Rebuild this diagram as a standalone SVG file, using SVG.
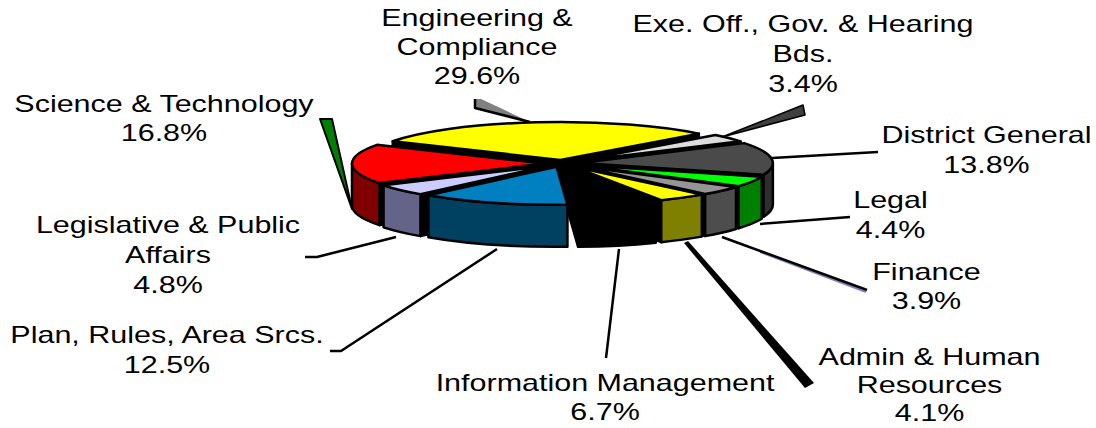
<svg xmlns="http://www.w3.org/2000/svg" width="1096" height="428" viewBox="0 0 1096 428">
<style>
.f{stroke:#000;stroke-width:2.5;stroke-linejoin:round}
.w{fill:#000}
.t{font-family:"Liberation Sans",Arial,sans-serif;font-size:24px;fill:#000;text-anchor:middle}
.ln{fill:none;stroke:#000;stroke-width:2.5;stroke-linejoin:round}
</style>
<rect width="1096" height="428" fill="#fff"/>
<g id="engineering">
<path class="f w" d="M560.24,159.98 L392.73,141.26 L392.73,183.26 L560.24,201.98 Z"/>
<path class="f w" d="M560.24,159.98 L698.87,133.61 L698.87,175.61 L560.24,201.98 Z"/>
<path class="f" fill="#FFFF00" d="M560.24,159.98 L392.73,141.26 A192.5,38 0 0 1 698.87,133.61 Z"/>
<text class="t" transform="scale(1.27 1)"><tspan x="375.6" y="26">Engineering &amp;</tspan><tspan x="375.6" y="55">Compliance</tspan><tspan x="375.6" y="84">29.6%</tspan></text>
</g>
<g id="exe">
<path class="f w" d="M576.72,161.32 L740.52,141.36 L740.52,183.36 L576.72,203.32 Z"/>
<path class="f" fill="#DDDDDD" d="M576.72,161.32 L715.35,134.95 A192.5,38 0 0 1 740.52,141.36 Z"/>
<text class="t" transform="scale(1.27 1)"><tspan x="632.3" y="32">Exe. Off., Gov. &amp; Hearing</tspan><tspan x="632.3" y="62">Bds.</tspan><tspan x="632.3" y="92">3.4%</tspan></text>
</g>
<g id="district">
<path class="f w" d="M580.37,163.08 L763.45,174.82 L763.45,216.82 L580.37,205.08 Z"/>
<path class="f" fill="#2E2E2E" d="M772.87,163.08 A192.5,38 0 0 1 763.45,174.82 L763.45,216.82 A192.5,38 0 0 0 772.87,205.08 Z"/>
<path class="f" fill="#4A4A4A" d="M580.37,163.08 L744.17,143.12 A192.5,38 0 0 1 763.45,174.82 Z"/>
<text class="t" transform="scale(1.27 1)"><tspan x="776.8" y="143">District General</tspan><tspan x="776.8" y="173">13.8%</tspan></text>
</g>
<g id="science">
<path class="f w" d="M544.5,163.55 L379.44,183.10 L379.44,225.10 L544.5,205.55 Z"/>
<path class="f" fill="#800000" d="M379.44,183.10 A192.5,38 0 0 1 352,163.55 L352,205.55 A192.5,38 0 0 0 379.44,225.10 Z"/>
<path class="f" fill="#FF0000" d="M544.5,163.55 L379.44,183.10 A192.5,38 0 0 1 376.99,144.83 Z"/>
<text class="t" transform="scale(1.27 1)"><tspan x="129.1" y="112">Science &amp; Technology</tspan><tspan x="129.1" y="141">16.8%</tspan></text>
</g>
<g id="legal">
<path class="f w" d="M578.69,165.05 L738.58,186.21 L738.58,228.21 L578.69,207.05 Z"/>
<path class="f" fill="#008000" d="M761.77,176.79 A192.5,38 0 0 1 738.58,186.21 L738.58,228.21 A192.5,38 0 0 0 761.77,218.79 Z"/>
<path class="f" fill="#00FF00" d="M578.69,165.05 L761.77,176.79 A192.5,38 0 0 1 738.58,186.21 Z"/>
<text class="t" transform="scale(1.27 1)"><tspan x="701.2" y="208">Legal</tspan><tspan x="701.2" y="238">4.4%</tspan></text>
</g>
<g id="legislative">
<path class="f w" d="M548.63,165.77 L420.45,194.12 L420.45,236.12 L548.63,207.77 Z"/>
<path class="f" fill="#646488" d="M420.45,194.12 A192.5,38 0 0 1 383.57,185.32 L383.57,227.32 A192.5,38 0 0 0 420.45,236.12 Z"/>
<path class="f" fill="#CCCCFF" d="M548.63,165.77 L420.45,194.12 A192.5,38 0 0 1 383.57,185.32 Z"/>
<text class="t" transform="scale(1.27 1)"><tspan x="132.3" y="233">Legislative &amp; Public</tspan><tspan x="132.3" y="263">Affairs</tspan><tspan x="132.3" y="293">4.8%</tspan></text>
</g>
<g id="finance">
<path class="f w" d="M576.11,165.82 L705.17,194.02 L705.17,236.02 L576.11,207.82 Z"/>
<path class="f" fill="#4D4D4D" d="M736,186.98 A192.5,38 0 0 1 705.17,194.02 L705.17,236.02 A192.5,38 0 0 0 736,228.98 Z"/>
<path class="f" fill="#969696" d="M576.11,165.82 L736,186.98 A192.5,38 0 0 1 705.17,194.02 Z"/>
<text class="t" transform="scale(1.27 1)"><tspan x="729.5" y="280">Finance</tspan><tspan x="729.5" y="309">3.9%</tspan></text>
</g>
<g id="admin">
<path class="f w" d="M572.76,166.42 L661.25,200.17 L661.25,242.17 L572.76,208.42 Z"/>
<path class="f" fill="#808000" d="M701.82,194.62 A192.5,38 0 0 1 661.25,200.17 L661.25,242.17 A192.5,38 0 0 0 701.82,236.62 Z"/>
<path class="f" fill="#FFFF00" d="M572.76,166.42 L701.82,194.62 A192.5,38 0 0 1 661.25,200.17 Z"/>
<text class="t" transform="scale(1.27 1)"><tspan x="731.9" y="365">Admin &amp; Human</tspan><tspan x="731.9" y="393">Resources</tspan><tspan x="731.9" y="421">4.1%</tspan></text>
</g>
<g id="plan">
<path class="f" fill="#004060" d="M567.44,204.79 A192.5,38 0 0 1 428.38,195.20 L428.38,237.20 A192.5,38 0 0 0 567.44,246.79 Z"/>
<path class="f" fill="#0080C0" d="M556.56,166.85 L567.44,204.79 A192.5,38 0 0 1 428.38,195.20 Z"/>
<text class="t" transform="scale(1.27 1)"><tspan x="131.5" y="343">Plan, Rules, Area Srcs.</tspan><tspan x="131.5" y="373">12.5%</tspan></text>
</g>
<g id="information">
<path class="f w" d="M567.25,166.93 L578.13,204.87 L578.13,246.87 L567.25,208.93 Z"/>
<path class="f w" d="M655.74,200.68 A192.5,38 0 0 1 578.13,204.87 L578.13,246.87 A192.5,38 0 0 0 655.74,242.68 Z"/>
<path class="f w" d="M567.25,166.93 L655.74,200.68 A192.5,38 0 0 1 578.13,204.87 Z"/>
<text class="t" transform="scale(1.27 1)"><tspan x="476.4" y="391">Information Management</tspan><tspan x="476.4" y="420">6.7%</tspan></text>
</g>
<g id="connectors">
<polygon points="320,119 332,119 352,209" fill="#008000" stroke="#000" stroke-width="2" stroke-linejoin="round"/>
<polygon points="475,99 481,99 530,122 475,108" fill="#808080"/>
<polyline class="ln" points="475,99 475,108 530,122"/>
<polygon points="803,105 805,115 722,137" fill="#404040" stroke="#000" stroke-width="1.5" stroke-linejoin="round"/>
<line class="ln" x1="772" y1="158" x2="878" y2="152"/>
<line class="ln" x1="760" y1="224" x2="850" y2="217"/>
<line x1="760" y1="252" x2="866" y2="292" stroke="#8080C0" stroke-width="2"/>
<line class="ln" x1="722" y1="237" x2="867" y2="290"/>
<polygon points="684,243 688,241 814,383 805,388" fill="#000"/>
<line class="ln" x1="619" y1="249" x2="606" y2="358"/>
<polyline class="ln" points="497,249 341,351 330,351"/>
<polyline class="ln" points="396,237 317,257 305,257"/>
</g>
</svg>
